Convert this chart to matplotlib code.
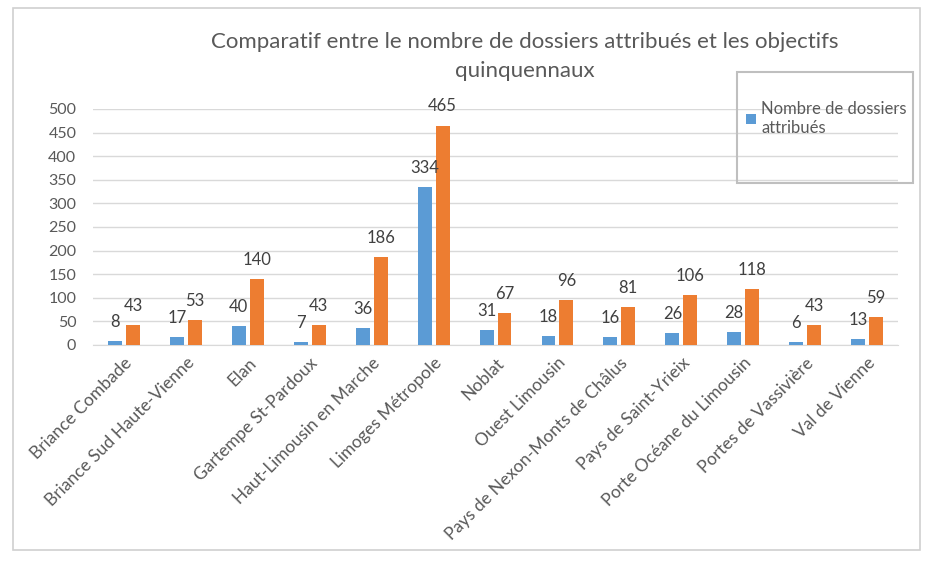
import matplotlib.pyplot as plt
from matplotlib.patches import Rectangle
import numpy as np

plt.rcParams['font.family'] = ['Lato', 'DejaVu Sans']

categories = ['Briance Combade', 'Briance Sud Haute-Vienne', 'Elan', 'Gartempe St-Pardoux',
              'Haut-Limousin en Marche', 'Limoges Métropole', 'Noblat', 'Ouest Limousin',
              'Pays de Nexon-Monts de Châlus', 'Pays de Saint-Yrieix', 'Porte Océane du Limousin',
              'Portes de Vassivière', 'Val de Vienne']
dossiers = [8, 17, 40, 7, 36, 334, 31, 18, 16, 26, 28, 6, 13]
objectifs = [43, 53, 140, 43, 186, 465, 67, 96, 81, 106, 118, 43, 59]
yticks = [0, 50, 100, 150, 200, 250, 300, 350, 400, 450, 500]

blue = '#5B9BD5'
orange = '#ED7D31'
txt = '#595959'
grid = '#D9D9D9'

fig = plt.figure(figsize=(9.34, 5.65), dpi=100)
ax = fig.add_axes([0.0996, 0.3894, 0.8619, 0.4177])

# outer chart frame
fig.patches.append(Rectangle((13 / 934, 1 - 550 / 565), 907 / 934, 542 / 565,
                             transform=fig.transFigure, fill=False, edgecolor='#D0D0D0', linewidth=1.2))

x = np.arange(len(categories))
w = 0.225
b1 = ax.bar(x - 0.145, dossiers, w, color=blue, label='Nombre de dossiers\nattribués', zorder=3)
b2 = ax.bar(x + 0.145, objectifs, w, color=orange, zorder=3)
ax.bar_label(b1, padding=8, fontsize=12, color='#404040')
ax.bar_label(b2, padding=8, fontsize=12, color='#404040')

ax.set_xlim(-0.5, len(categories) - 0.5)
ax.set_ylim(0, 500)
ax.set_yticks(yticks)
ax.grid(axis='y', color=grid, linewidth=1, zorder=0)
ax.set_xticks(x)
ax.set_xticklabels(categories, rotation=45, ha='right', rotation_mode='anchor', fontsize=12.5, color=txt)
ax.tick_params(axis='y', labelsize=11.5, colors=txt, length=0, pad=12)
ax.tick_params(axis='x', length=0, pad=7)
for s in ['top', 'right', 'left']:
    ax.spines[s].set_visible(False)
ax.spines['bottom'].set_color(grid)

fig.text(0.562, 0.9, 'Comparatif entre le nombre de dossiers attribués et les objectifs\nquinquennaux',
         ha='center', va='center', fontsize=16, color=txt, linespacing=1.6)

# legend with its own (larger) frame
fig.patches.append(Rectangle((737 / 934, 1 - 183 / 565), 176 / 934, 111 / 565,
                             transform=fig.transFigure, fill=False, edgecolor='#BFBFBF', linewidth=1.5))
fig.legend(handles=[b1], loc='upper left', bbox_to_anchor=(731 / 934, 1 - 86 / 565), frameon=False,
           fontsize=12, labelcolor=txt, handlelength=0.6, handleheight=0.6, handletextpad=0.3,
           labelspacing=0.5)

fig.savefig('out.png', dpi=100)
